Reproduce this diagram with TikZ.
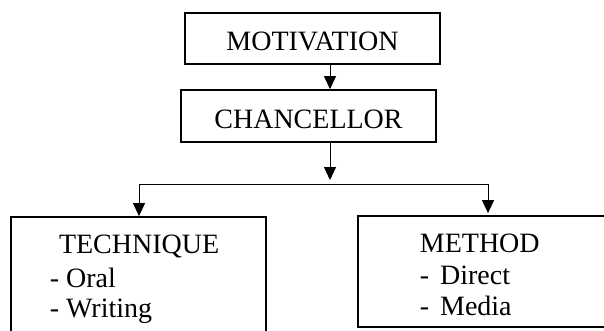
\documentclass[tikz,border=0pt]{standalone}
\usepackage{fontspec}
\setmainfont{Liberation Serif}
\usetikzlibrary{arrows.meta}
\begin{document}
\begin{tikzpicture}[x=1pt,y=-1pt,
  box/.style={draw, line width=1.8pt, inner sep=0pt},
  big/.style={font=\fontsize{28}{30}\selectfont},
  conn/.style={line width=1pt},
  arr/.style={conn, -{Triangle[width=12pt,length=13pt]}},
  txt/.style={big, inner sep=0pt, anchor=base west}]
\useasboundingbox (0,0) rectangle (604,330);
\clip (0,0) rectangle (604,330);
% boxes
\node[box, big, minimum width=255pt, minimum height=51pt, text height=37pt, text depth=14pt] (mot) at (312.5,38.5) {MOTIVATION};
\node[box, big, minimum width=255pt, minimum height=52pt, text height=38.3pt, text depth=13.7pt] (chan) at (308.5,116) {CHANCELLOR};
\node[box, minimum width=255pt, minimum height=140pt] (tech) at (138.5,287) {};
\node[box, minimum width=260pt, minimum height=111pt] (meth) at (488,271.5) {};
% texts
\node[txt] (t1) at (58.8,253) {TECHNIQUE};
\node[txt] (t2) at (49.6,287) {- Oral};
\node[txt] (t3) at (49.6,317) {- Writing};
\node[txt] (m1) at (419.7,252) {METHOD};
\node[txt] (m2) at (419.6,284) {-\hspace{11pt}Direct};
\node[txt] (m3) at (419.6,315) {-\hspace{11pt}Media};
% connectors
\coordinate (ax) at (330,0);
\coordinate (tip) at (330,180);
\coordinate (hl) at (139,184);
\coordinate (hr) at (488,184);
\draw[arr] (mot.south -| ax) -- (chan.north -| ax);
\draw[arr] (chan.south -| ax) -- (tip);
\draw[conn] (hl) -- (hr);
\draw[arr] (hl) -- (tech.north -| hl);
\draw[arr, shorten >=2pt] (hr) -- (meth.north -| hr);
\end{tikzpicture}
\end{document}
